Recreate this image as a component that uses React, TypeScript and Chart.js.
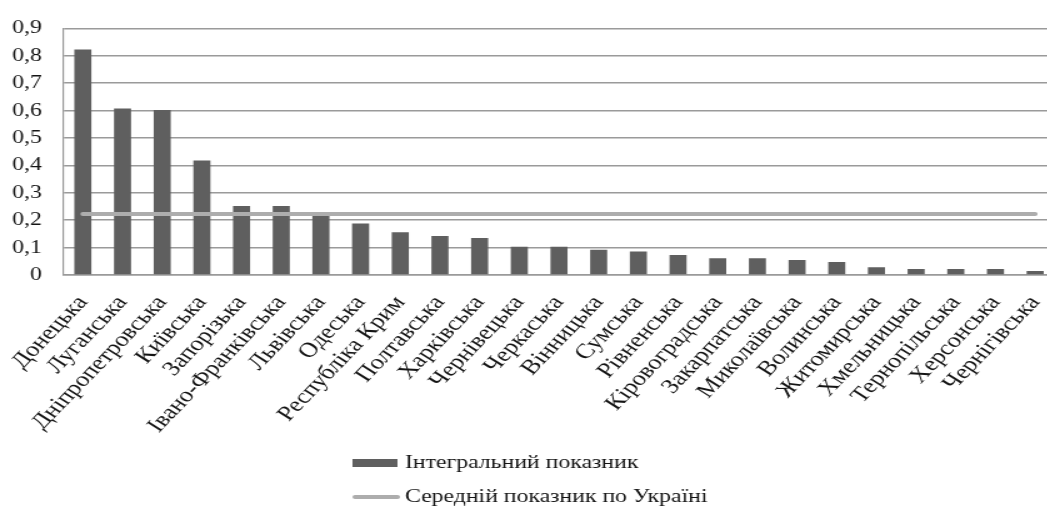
import React, { useEffect, useRef } from 'react';
import { Chart, registerables } from 'chart.js';
Chart.register(...registerables);

const regions = ['Донецька', 'Луганська', 'Дніпропетровська', 'Київська', 'Запорізька', 'Івано-Франківська', 'Львівська', 'Одеська', 'Республіка Крим', 'Полтавська', 'Харківська', 'Чернівецька', 'Черкаська', 'Вінницька', 'Сумська', 'Рівненська', 'Кіровоградська', 'Закарпатська', 'Миколаївська', 'Волинська', 'Житомирська', 'Хмельницька', 'Тернопільська', 'Херсонська', 'Чернігівська'];
const integralValues = [0.823, 0.608, 0.602, 0.418, 0.252, 0.252, 0.216, 0.188, 0.156, 0.142, 0.135, 0.103, 0.103, 0.092, 0.086, 0.073, 0.061, 0.061, 0.055, 0.047, 0.028, 0.022, 0.022, 0.022, 0.015];
const ukraineAverage = 0.223;
const averageValues = regions.map(() => ukraineAverage);
const yTickLabels = ['0', '0,1', '0,2', '0,3', '0,4', '0,5', '0,6', '0,7', '0,8', '0,9'];
const seriesNames = ['Інтегральний показник', 'Середній показник по Україні'];

const STRETCH = 1.25;
const W = 844;
const H = 512;
const FONT = '"Liberation Serif", "Times New Roman", serif';
const TEXT = '#141414';
const BAR = '#5f5f5f';
const LINE = '#adadad';
const GRID = '#9a9a9a';

const legendPlugin = {
  id: 'twoRowLegend',
  afterDraw(chart: any) {
    const ctx = chart.ctx;
    ctx.save();
    ctx.font = `19px ${FONT}`;
    ctx.textBaseline = 'middle';
    ctx.textAlign = 'left';
    const ds = chart.data.datasets;
    ctx.fillStyle = ds[0].backgroundColor;
    ctx.fillRect(282, 459, 36, 8);
    ctx.fillStyle = TEXT;
    ctx.fillText(ds[0].label, 324, 463);
    ctx.strokeStyle = ds[1].borderColor;
    ctx.lineWidth = 4;
    ctx.lineCap = 'round';
    ctx.beginPath();
    ctx.moveTo(284, 497);
    ctx.lineTo(318, 497);
    ctx.stroke();
    ctx.fillStyle = TEXT;
    ctx.fillText(ds[1].label, 324, 497);
    ctx.restore();
  },
};

export default function App() {
  const ref = useRef<HTMLCanvasElement>(null);
  useEffect(() => {
    if (!ref.current) return;
    const chart = new Chart(ref.current, {
      type: 'bar',
      data: {
        labels: regions,
        datasets: [
          {
            type: 'bar',
            label: seriesNames[0],
            data: integralValues,
            backgroundColor: BAR,
            borderWidth: 0,
            categoryPercentage: 1,
            barPercentage: 0.43,
            order: 1,
          },
          {
            type: 'line',
            label: seriesNames[1],
            data: averageValues,
            borderColor: LINE,
            backgroundColor: LINE,
            borderWidth: 4,
            borderCapStyle: 'round',
            pointRadius: 0,
            tension: 0,
            order: 0,
          } as any,
        ],
      },
      options: {
        animation: false,
        responsive: false,
        devicePixelRatio: 1,
        layout: { padding: { top: 20, left: 0, right: 0, bottom: 0 } },
        plugins: { legend: { display: false }, tooltip: { enabled: false } },
        scales: {
          x: {
            offset: true,
            grid: { display: false, drawTicks: false },
            border: { display: true, color: GRID, width: 1.5 },
            ticks: {
              autoSkip: false,
              minRotation: 52,
              maxRotation: 52,
              padding: 16,
              color: TEXT,
              font: { family: FONT, size: 21 },
            },
            afterFit: (s: any) => {
              s.height = 237;
              s.paddingLeft = 0;
              s.paddingRight = 0;
            },
          },
          y: {
            min: 0,
            max: 0.9,
            grid: { color: GRID, lineWidth: 1.5, drawTicks: false },
            border: { display: true, color: GRID, width: 1.2 },
            ticks: {
              stepSize: 0.1,
              padding: 17,
              color: TEXT,
              font: { family: FONT, size: 19 },
              callback: (_v: any, i: number) => yTickLabels[i],
            },
            afterFit: (s: any) => { s.width = 50.4; },
          },
        },
      },
      plugins: [legendPlugin],
    });
    return () => chart.destroy();
  }, []);
  return (
    <div style={{ position: 'fixed', left: 0, top: 0, width: 1047, height: H, overflow: 'hidden', background: '#fff' }}>
      <div style={{ width: W, height: H, transform: `scaleX(${STRETCH})`, transformOrigin: '0 0' }}>
        <canvas ref={ref} width={W} height={H} style={{ width: W, height: H, display: 'block' }} />
      </div>
    </div>
  );
}
